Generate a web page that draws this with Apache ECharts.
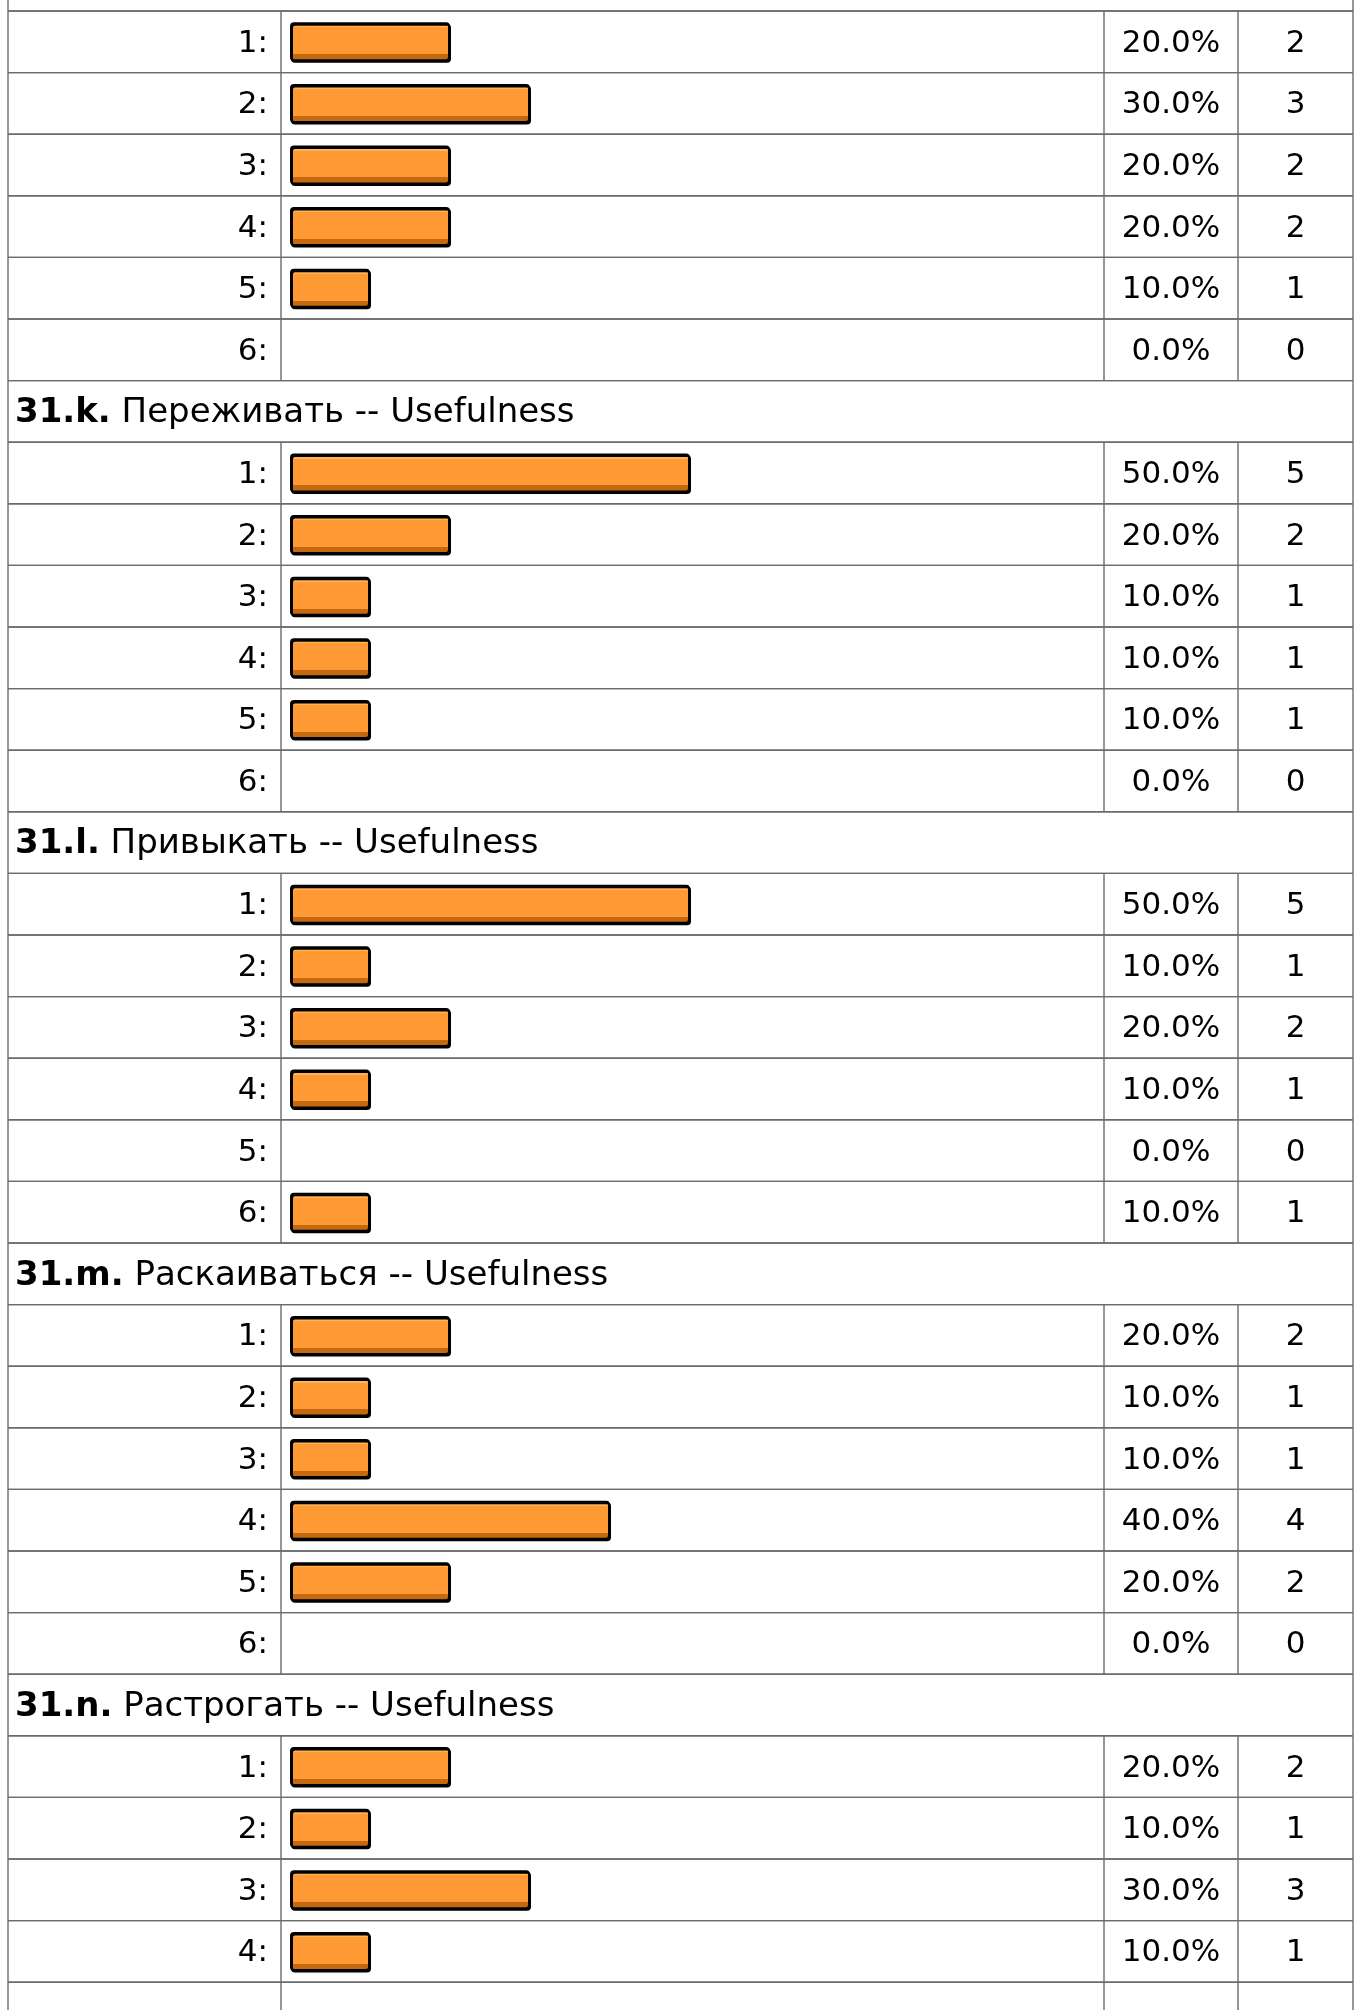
<!DOCTYPE html>
<html>
<head>
<meta charset="utf-8">
<script src="https://cdn.jsdelivr.net/npm/echarts/dist/echarts.min.js"></script>
<style>
  html, body { margin: 0; padding: 0; background: #fff; }
  #chart { width: 1359px; height: 2010px; }
</style>
</head>
<body>
<div id="chart"></div>
<script>
// answer labels shared by every question block
const answerLabels = ['1:', '2:', '3:', '4:', '5:', '6:'];

// block titles (first block's title is cut off above the picture)
const sectionCodes = ['', '31.k.', '31.l.', '31.m.', '31.n.'];
const sectionNames = ['', 'Переживать -- Usefulness', 'Привыкать -- Usefulness', 'Раскаиваться -- Usefulness', 'Растрогать -- Usefulness'];

// percent / count per answer
const pctJ = [20, 30, 20, 20, 10, 0];
const cntJ = [2, 3, 2, 2, 1, 0];
const pctK = [50, 20, 10, 10, 10, 0];
const cntK = [5, 2, 1, 1, 1, 0];
const pctL = [50, 10, 20, 10, 0, 10];
const cntL = [5, 1, 2, 1, 0, 1];
const pctM = [20, 10, 10, 40, 20, 0];
const cntM = [2, 1, 1, 4, 2, 0];
const pctN = [20, 10, 30, 10];
const cntN = [2, 1, 3, 1];

const sectionPct = [pctJ, pctK, pctL, pctM, pctN];
const sectionCnt = [cntJ, cntK, cntL, cntM, cntN];

// table layout
const ROW_H = 61.6;
const TABLE_TOP = 11;
const COL_LEFT = 8, COL_BAR = 281, COL_PCT = 1104, COL_CNT = 1238, COL_RIGHT = 1353;
const LINE_COLOR = '#6b6b6b';
const LINE_W = 1.4;
const FONT = '"DejaVu Sans", Verdana, sans-serif';
const FONT_SIZE = 31;
const HEAD_SIZE = 34;

// flatten blocks into table rows
let rows = [];
sectionPct.forEach((pcts, s) => {
  rows.push({ kind: 'head', code: sectionCodes[s], name: sectionNames[s] });
  pcts.forEach((p, i) => {
    rows.push({ kind: 'answer', label: answerLabels[i], pct: p, cnt: sectionCnt[s][i] });
  });
});
// next row of 31.n, only its top edge is visible
rows.push({ kind: 'answer', label: '', pct: null, cnt: null });

let chart = echarts.init(document.getElementById('chart'));

function renderRow(params, api) {
  let row = rows[params.dataIndex];
  let c = api.coord([0, params.dataIndex]);
  let h = api.size([0, 1])[1];
  let top = c[1] - h / 2, bottom = c[1] + h / 2;
  let ty = c[1] + 2;
  let ls = { stroke: LINE_COLOR, lineWidth: LINE_W };
  let kids = [
    { type: 'line', shape: { x1: COL_LEFT, y1: top, x2: COL_RIGHT, y2: top }, style: ls },
    { type: 'line', shape: { x1: COL_LEFT, y1: bottom, x2: COL_RIGHT, y2: bottom }, style: ls }
  ];
  let cols = row.kind === 'head' ? [COL_LEFT, COL_RIGHT] : [COL_LEFT, COL_BAR, COL_PCT, COL_CNT, COL_RIGHT];
  cols.forEach(x => {
    kids.push({ type: 'line', shape: { x1: x, y1: top, x2: x, y2: bottom }, style: ls });
  });

  if (row.kind === 'head') {
    if (row.code) {
      kids.push({
        type: 'text',
        style: {
          x: COL_LEFT + 7, y: ty,
          text: '{b|' + row.code + '} ' + row.name,
          fill: '#000', font: HEAD_SIZE + 'px ' + FONT,
          align: 'left', verticalAlign: 'middle',
          rich: { b: { fontWeight: 'bold', fontSize: HEAD_SIZE, fontFamily: FONT, fill: '#000' } }
        }
      });
    }
  } else if (row.label) {
    let ts = { fill: '#000', font: FONT_SIZE + 'px ' + FONT, verticalAlign: 'middle' };
    kids.push({ type: 'text', style: Object.assign({ x: COL_BAR - 13, y: ty, text: row.label, align: 'right' }, ts) });
    kids.push({ type: 'text', style: Object.assign({ x: (COL_PCT + COL_CNT) / 2, y: ty, text: row.pct.toFixed(1) + '%', align: 'center' }, ts) });
    kids.push({ type: 'text', style: Object.assign({ x: (COL_CNT + COL_RIGHT) / 2, y: ty, text: String(row.cnt), align: 'center' }, ts) });
  }
  return { type: 'group', children: kids };
}

let option = {
  backgroundColor: '#fff',
  animation: false,
  grid: {
    left: 290,
    width: 800,
    top: TABLE_TOP - ROW_H,
    height: rows.length * ROW_H,
    outerBoundsMode: 'none',
    containLabel: false
  },
  xAxis: { type: 'value', min: 0, max: 100, show: false },
  yAxis: {
    type: 'category',
    inverse: true,
    show: false,
    data: rows.map((r, i) => 'r' + i)
  },
  series: [
    {
      type: 'custom',
      renderItem: renderRow,
      clip: false,
      silent: true,
      data: rows.map((r, i) => [0, i]),
      z: 1
    },
    {
      type: 'bar',
      barWidth: 39,
      silent: true,
      data: rows.map(r => (r.kind === 'answer' && r.pct > 0) ? r.pct : '-'),
      itemStyle: {
        color: new echarts.graphic.LinearGradient(0, 0, 0, 1, [
          { offset: 0, color: '#FFB357' },
          { offset: 0.13, color: '#FFB357' },
          { offset: 0.13, color: '#FF9933' },
          { offset: 0.82, color: '#FF9933' },
          { offset: 0.82, color: '#C4690F' },
          { offset: 1, color: '#C4690F' }
        ]),
        borderColor: '#000',
        borderWidth: 2,
        borderRadius: 3,
        shadowColor: '#000',
        shadowBlur: 0,
        shadowOffsetX: 1,
        shadowOffsetY: 1.5
      },
      z: 2
    }
  ]
};

chart.setOption(option);
</script>
</body>
</html>
